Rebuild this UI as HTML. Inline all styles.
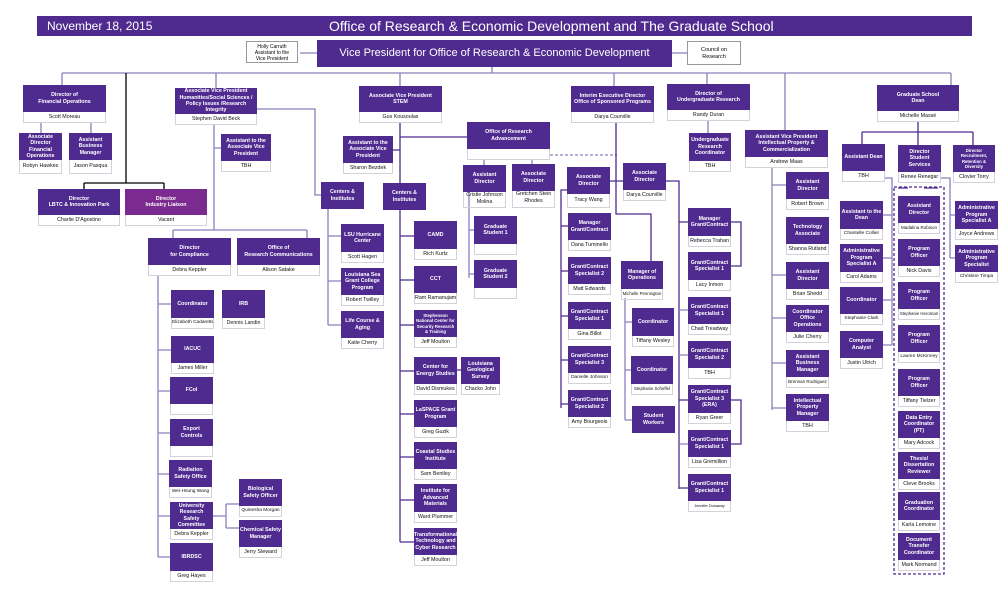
<!DOCTYPE html>
<html><head><meta charset="utf-8"><style>
body{margin:0;width:1008px;height:612px;background:#fff;position:relative;overflow:hidden;font-family:"Liberation Sans",sans-serif}
.b{position:absolute}
.t{background:#4f2a8f;color:#fff;font-weight:bold;font-size:5.3px;line-height:1.2;display:flex;align-items:center;justify-content:center;text-align:center;padding:0 1px;box-sizing:border-box}
.n{border:1px solid #d4d0dc;border-top:none;height:10px;font-size:5.3px;line-height:10px;text-align:center;white-space:nowrap;overflow:hidden;color:#111}
svg{position:absolute;left:0;top:0}
</style></head><body>
<svg width="1008" height="612" fill="none" stroke="#8b80bd" stroke-width="1.3">
<path d="M300 53H317M672 53H687M492 67V73M62 73H951M62 73V85M216 73V88M400 73V86M614 73V86M707 73V84M785 73V130M951 73V85"/>
<path stroke="#000" d="M126 73V183M84 183H164M84 183V189M164 183V189"/>
<path d="M41 123V133M91 123V133M257 109H315V195H321M214 125V230M173 230H307M173 230V238M307 230V238M214 148H221"/>
<path d="M158 276V557M158 304H171M158 350H171M158 391H170M158 433H170M158 474H169M158 516H170M158 557H170M213 516H226M226 504V528M226 504H239M226 528H239"/>
<path d="M328 209V325M328 236H341M328 281H341M328 325H341"/>
<path stroke="#4f2a8f" d="M400 123V183M400 210V542M400 137H467M393 150H400M400 236H414M400 280H414M400 325H414M400 371H414M400 414H414M400 457H414M400 500H414M400 542H414M457 370H461"/>
<path d="M484 160V165M532 160V164M469 192V278M469 230H474M469 274H474"/>
<path stroke-dasharray="3 2" d="M550 155H617"/>
<path stroke="#4f2a8f" d="M616 123V214H651V261M610 181H623M567 190H561V408M561 226H568M561 271H568M561 316H568M561 360H568M561 404H568"/>
<path d="M625 298V420M625 322H632M625 370H631M625 420H632"/>
<path stroke="#4f2a8f" d="M666 181H679V489M679 222H688M679 400H688M679 488H688M731 222H741V266H731M731 400H741V444H731"/>
<path d="M679 310H688M679 355H688M679 444H688M708 121V133"/>
<path d="M772 167V410M772 185H786M772 275H786M772 318H786M772 363H786M772 408H786"/>
<path stroke="#4f2a8f" d="M918 122V132M862 132H973M862 132V144M918 132V145M973 132V145"/>
<path d="M885 178H892V345M883 215H892M883 258H892M883 300H892M883 345H892M941 178H950V258M950 215H955M950 258H955"/>
<path stroke="#4f2a8f" stroke-dasharray="3 2" d="M894 187H944V574H894Z"/>
<path stroke="#4f2a8f" d="M898 188H908M924 188H938"/>
</svg>
<div style="position:absolute;left:37px;top:16px;width:935px;height:20px;background:#4f2a8f;color:#fff"><span style="position:absolute;left:10px;top:3px;font-size:12px">November 18, 2015</span><span style="position:absolute;left:292px;top:2px;font-size:14px">Office of Research &amp; Economic Development and The Graduate School</span></div>
<div style="position:absolute;left:317px;top:40px;width:355px;height:27px;background:#4f2a8f;color:#fff;font-size:11px;line-height:27px;text-align:center">Vice President for Office of Research &amp; Economic Development</div>
<div style="position:absolute;left:246px;top:41px;width:52px;height:22px;border:1px solid #999;font-size:5px;text-align:center;line-height:1.2;padding-top:2px;box-sizing:border-box">Holly Carruth<br>Assistant to the<br>Vice President</div>
<div style="position:absolute;left:687px;top:41px;width:54px;height:24px;border:1px solid #999;font-size:5.5px;text-align:center;line-height:1.3;padding-top:5px;box-sizing:border-box">Council on<br>Research</div>

<div class=b style="left:23px;top:85px;width:83px"><div class=t style="height:27px">Director of<br>Financial Operations</div><div class=n>Scott Moreau</div></div>
<div class=b style="left:175px;top:88px;width:82px"><div class=t style="height:26px">Associate Vice President<br>Humanities/Social Sciences /<br>Policy Issues /Research Integrity</div><div class=n>Stephen David Beck</div></div>
<div class=b style="left:359px;top:86px;width:83px"><div class=t style="height:26px">Associate Vice President<br>STEM</div><div class=n>Gus Kousoulas</div></div>
<div class=b style="left:571px;top:86px;width:83px"><div class=t style="height:26px">Interim Executive Director<br>Office of Sponsored Programs</div><div class=n>Darya Courville</div></div>
<div class=b style="left:667px;top:84px;width:83px"><div class=t style="height:26px">Director of<br>Undergraduate Research</div><div class=n>Randy Duran</div></div>
<div class=b style="left:877px;top:85px;width:82px"><div class=t style="height:26px">Graduate School<br>Dean</div><div class=n>Michelle Massé</div></div>
<div class=b style="left:745px;top:130px;width:83px"><div class=t style="height:27px">Assistant Vice President<br>Intellectual Property &amp;<br>Commercialization</div><div class=n>Andrew Maas</div></div>

<div class=b style="left:19px;top:133px;width:43px"><div class=t style="height:27px">Associate Director Financial Operations</div><div class=n style="height:13px;line-height:13px">Robyn Hawkes</div></div>
<div class=b style="left:69px;top:133px;width:43px"><div class=t style="height:27px">Assistant Business Manager</div><div class=n style="height:13px;line-height:13px">Jason Pasqua</div></div>
<div class=b style="left:38px;top:189px;width:82px"><div class=t style="height:26px">Director<br>LBTC &amp; Innovation Park</div><div class=n>Charlie D'Agostino</div></div>
<div class=b style="left:125px;top:189px;width:82px"><div class=t style="height:26px;background:#7b2a8f">Director<br>Industry Liaison</div><div class=n>Vacant</div></div>
<div class=b style="left:221px;top:134px;width:50px"><div class=t style="height:27px">Assistant to the Associate Vice President</div><div class=n>TBH</div></div>
<div class=b style="left:321px;top:182px;width:43px"><div class=t style="height:27px">Centers &amp;<br>Institutes</div></div>
<div class=b style="left:148px;top:238px;width:83px"><div class=t style="height:27px">Director<br>for Compliance</div><div class=n>Debra Keppler</div></div>
<div class=b style="left:237px;top:238px;width:83px"><div class=t style="height:27px">Office of<br>Research Communications</div><div class=n>Alison Satake</div></div>
<div class=b style="left:343px;top:136px;width:50px"><div class=t style="height:27px">Assistant to the Associate Vice President</div><div class=n>Sharon Bezdek</div></div>
<div class=b style="left:383px;top:183px;width:43px"><div class=t style="height:27px">Centers &amp;<br>Institutes</div></div>
<div class=b style="left:467px;top:122px;width:83px"><div class=t style="height:27px">Office of Research Advancement</div><div class=n></div></div>
<div class=b style="left:463px;top:165px;width:43px"><div class=t style="height:27px">Assistant<br>Director</div><div class=n style="height:15px;line-height:7px;white-space:normal">Cristie Johnson Molina</div></div>
<div class=b style="left:512px;top:164px;width:43px"><div class=t style="height:27px">Associate<br>Director</div><div class=n style="height:16px;line-height:7px;white-space:normal">Gretchen Stein Rhodes</div></div>
<div class=b style="left:474px;top:216px;width:43px"><div class=t style="height:28px">Graduate Student 1</div><div class=n></div></div>
<div class=b style="left:474px;top:260px;width:43px"><div class=t style="height:28px">Graduate Student 2</div><div class=n></div></div>

<div class=b style="left:341px;top:224px;width:43px"><div class=t style="height:28px">LSU Hurricane Center</div><div class=n>Scott Hagen</div></div>
<div class=b style="left:341px;top:268px;width:43px"><div class=t style="height:27px">Louisiana Sea Grant College Program</div><div class=n>Robert Twilley</div></div>
<div class=b style="left:341px;top:311px;width:43px"><div class=t style="height:27px">Life Course &amp; Aging</div><div class=n>Katie Cherry</div></div>
<div class=b style="left:414px;top:221px;width:43px"><div class=t style="height:28px">CAMD</div><div class=n>Rich Kurtz</div></div>
<div class=b style="left:414px;top:266px;width:43px"><div class=t style="height:27px">CCT</div><div class=n>Ram Ramanujam</div></div>
<div class=b style="left:414px;top:310px;width:43px"><div class=t style="height:27px;font-size:4.3px">Stephenson National Center for Security Research &amp; Training</div><div class=n>Jeff Moulton</div></div>
<div class=b style="left:414px;top:357px;width:43px"><div class=t style="height:27px">Center for Energy Studies</div><div class=n>David Dismukes</div></div>
<div class=b style="left:461px;top:357px;width:39px"><div class=t style="height:27px">Louisiana Geological Survey</div><div class=n>Chacko John</div></div>
<div class=b style="left:414px;top:400px;width:43px"><div class=t style="height:27px">LaSPACE Grant Program</div><div class=n>Greg Guzik</div></div>
<div class=b style="left:414px;top:442px;width:43px"><div class=t style="height:27px">Coastal Studies Institute</div><div class=n>Sam Bentley</div></div>
<div class=b style="left:414px;top:484px;width:43px"><div class=t style="height:28px">Institute for Advanced Materials</div><div class=n>Ward Plummer</div></div>
<div class=b style="left:414px;top:528px;width:43px"><div class=t style="height:27px">Transformational Technology and Cyber Research</div><div class=n>Jeff Moulton</div></div>

<div class=b style="left:171px;top:290px;width:43px"><div class=t style="height:28px">Coordinator</div><div class=n style="font-size:4.8px">Elizabeth Cadarette</div></div>
<div class=b style="left:222px;top:290px;width:43px"><div class=t style="height:28px">IRB</div><div class=n>Dennis Landin</div></div>
<div class=b style="left:171px;top:336px;width:43px"><div class=t style="height:27px">IACUC</div><div class=n>James Miller</div></div>
<div class=b style="left:170px;top:377px;width:43px"><div class=t style="height:27px">FCoI</div><div class=n></div></div>
<div class=b style="left:170px;top:419px;width:43px"><div class=t style="height:27px">Export<br>Controls</div><div class=n></div></div>
<div class=b style="left:169px;top:460px;width:43px"><div class=t style="height:27px">Radiation Safety Office</div><div class=n style="font-size:4.8px">Wei-Hsung Wang</div></div>
<div class=b style="left:170px;top:502px;width:43px"><div class=t style="height:27px">University Research Safety Committee</div><div class=n>Debra Keppler</div></div>
<div class=b style="left:170px;top:543px;width:43px"><div class=t style="height:28px">IBRDSC</div><div class=n>Greg Hayes</div></div>
<div class=b style="left:239px;top:479px;width:43px"><div class=t style="height:27px">Biological Safety Officer</div><div class=n style="font-size:4.8px">Quinesha Morgan</div></div>
<div class=b style="left:239px;top:520px;width:43px"><div class=t style="height:27px">Chemical Safety Manager</div><div class=n>Jerry Steward</div></div>

<div class=b style="left:567px;top:167px;width:43px"><div class=t style="height:27px">Associate<br>Director</div><div class=n style="height:13px;line-height:13px">Tracy Wang</div></div>
<div class=b style="left:623px;top:163px;width:43px"><div class=t style="height:27px">Associate<br>Director</div><div class=n>Darya Courville</div></div>
<div class=b style="left:568px;top:213px;width:43px"><div class=t style="height:27px">Manager Grant/Contract</div><div class=n>Dana Tuminello</div></div>
<div class=b style="left:568px;top:257px;width:43px"><div class=t style="height:27px">Grant/Contract Specialist 2</div><div class=n>Matt Edwards</div></div>
<div class=b style="left:568px;top:302px;width:43px"><div class=t style="height:27px">Grant/Contract Specialist 1</div><div class=n>Gina Billot</div></div>
<div class=b style="left:568px;top:346px;width:43px"><div class=t style="height:27px">Grant/Contract Specialist 3</div><div class=n style="font-size:4.8px">Danielle Johnson</div></div>
<div class=b style="left:568px;top:390px;width:43px"><div class=t style="height:27px">Grant/Contract Specialist 2</div><div class=n>Amy Bourgeois</div></div>
<div class=b style="left:621px;top:261px;width:42px"><div class=t style="height:28px">Manager of Operations</div><div class=n style="font-size:4.3px">Michelle Pennington</div></div>
<div class=b style="left:632px;top:308px;width:42px"><div class=t style="height:28px">Coordinator</div><div class=n>Tiffany Wesley</div></div>
<div class=b style="left:631px;top:356px;width:42px"><div class=t style="height:28px">Coordinator</div><div class=n style="font-size:4.3px">Stephanie Scheffel</div></div>
<div class=b style="left:632px;top:406px;width:43px"><div class=t style="height:27px">Student<br>Workers</div></div>
<div class=b style="left:688px;top:208px;width:43px"><div class=t style="height:28px">Manager Grant/Contract</div><div class=n>Rebecca Trahan</div></div>
<div class=b style="left:688px;top:252px;width:43px"><div class=t style="height:28px">Grant/Contract Specialist 1</div><div class=n>Lacy Inmon</div></div>
<div class=b style="left:688px;top:297px;width:43px"><div class=t style="height:27px">Grant/Contract Specialist 1</div><div class=n>Chad Treadway</div></div>
<div class=b style="left:688px;top:341px;width:43px"><div class=t style="height:27px">Grant/Contract Specialist 2</div><div class=n>TBH</div></div>
<div class=b style="left:688px;top:385px;width:43px"><div class=t style="height:28px">Grant/Contract Specialist 3 (ERA)</div><div class=n>Ryan Greer</div></div>
<div class=b style="left:688px;top:430px;width:43px"><div class=t style="height:27px">Grant/Contract Specialist 1</div><div class=n>Lisa Gremillion</div></div>
<div class=b style="left:688px;top:474px;width:43px"><div class=t style="height:27px">Grant/Contract Specialist 1</div><div class=n style="font-size:3.8px">Jennifer Dunaway</div></div>
<div class=b style="left:689px;top:133px;width:42px"><div class=t style="height:28px">Undergraduate Research Coordinator</div><div class=n>TBH</div></div>

<div class=b style="left:786px;top:172px;width:43px"><div class=t style="height:27px">Assistant<br>Director</div><div class=n>Robert Brown</div></div>
<div class=b style="left:786px;top:217px;width:43px"><div class=t style="height:27px">Technology Associate</div><div class=n>Shanna Rutland</div></div>
<div class=b style="left:786px;top:262px;width:43px"><div class=t style="height:27px">Assistant<br>Director</div><div class=n>Brian Shedd</div></div>
<div class=b style="left:786px;top:305px;width:43px"><div class=t style="height:27px">Coordinator Office Operations</div><div class=n>Julie Cherry</div></div>
<div class=b style="left:786px;top:350px;width:43px"><div class=t style="height:27px">Assistant Business Manager</div><div class=n style="font-size:4.5px">Brennan Rodriguez</div></div>
<div class=b style="left:786px;top:394px;width:43px"><div class=t style="height:27px">Intellectual Property Manager</div><div class=n>TBH</div></div>

<div class=b style="left:842px;top:144px;width:43px"><div class=t style="height:27px">Assistant Dean</div><div class=n>TBH</div></div>
<div class=b style="left:898px;top:145px;width:43px"><div class=t style="height:27px">Director<br>Student Services</div><div class=n>Renee Renegar</div></div>
<div class=b style="left:953px;top:145px;width:42px"><div class=t style="height:27px;font-size:4.3px">Director Recruitment, Retention &amp; Diversity</div><div class=n>Clovier Torry</div></div>
<div class=b style="left:840px;top:201px;width:43px"><div class=t style="height:28px">Assistant to the Dean</div><div class=n style="font-size:4.8px">Chantelle Collier</div></div>
<div class=b style="left:840px;top:244px;width:43px"><div class=t style="height:28px">Administrative Program Specialist A</div><div class=n>Carol Adams</div></div>
<div class=b style="left:840px;top:287px;width:43px"><div class=t style="height:27px">Coordinator</div><div class=n style="font-size:4.8px">Stephanie Clark</div></div>
<div class=b style="left:840px;top:331px;width:43px"><div class=t style="height:27px">Computer Analyst</div><div class=n>Justin Ulrich</div></div>
<div class=b style="left:898px;top:196px;width:42px"><div class=t style="height:27px">Assistant<br>Director</div><div class=n style="font-size:4.5px">Madalina Robison</div></div>
<div class=b style="left:898px;top:239px;width:42px"><div class=t style="height:27px">Program Officer</div><div class=n>Nick Davis</div></div>
<div class=b style="left:898px;top:282px;width:42px"><div class=t style="height:27px">Program Officer</div><div class=n style="font-size:4.3px">Stephanie Heroman</div></div>
<div class=b style="left:898px;top:325px;width:42px"><div class=t style="height:27px">Program Officer</div><div class=n style="font-size:4.8px">Lauren McKinney</div></div>
<div class=b style="left:898px;top:369px;width:42px"><div class=t style="height:27px">Program Officer</div><div class=n>Tiffany Tielzer</div></div>
<div class=b style="left:898px;top:411px;width:42px"><div class=t style="height:27px">Data Entry Coordinator (PT)</div><div class=n>Mary Adcock</div></div>
<div class=b style="left:898px;top:452px;width:42px"><div class=t style="height:27px">Thesis/ Dissertation Reviewer</div><div class=n>Cleve Brooks</div></div>
<div class=b style="left:898px;top:492px;width:42px"><div class=t style="height:28px">Graduation Coordinator</div><div class=n>Karla Lemoine</div></div>
<div class=b style="left:898px;top:533px;width:42px"><div class=t style="height:27px">Document Transfer Coordinator</div><div class=n>Mark Normand</div></div>
<div class=b style="left:955px;top:201px;width:43px"><div class=t style="height:28px">Administrative Program Specialist A</div><div class=n>Joyce Andrews</div></div>
<div class=b style="left:955px;top:245px;width:43px"><div class=t style="height:27px">Administrative Program Specialist</div><div class=n style="font-size:4.8px">Christine Timpa</div></div>
</body></html>
